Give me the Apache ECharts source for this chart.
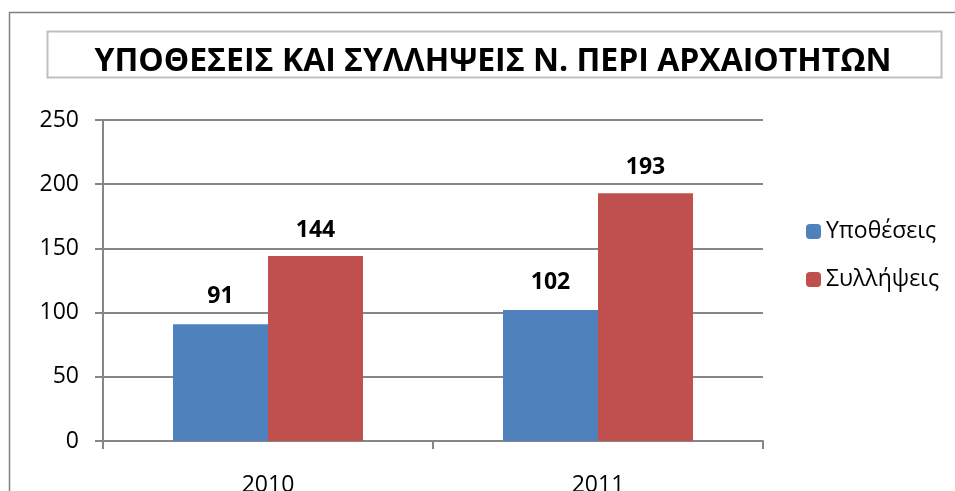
<!DOCTYPE html>
<html>
<head>
<meta charset="utf-8">
<script src="https://cdn.jsdelivr.net/npm/echarts@6/dist/echarts.min.js"></script>
<style>
  html, body { margin: 0; padding: 0; background: #fff; }
  #main { width: 955px; height: 491px; }
</style>
</head>
<body>
<div id="main"></div>
<script>
var years = ["2010", "2011"];
var cases = [91, 102];
var arrests = [144, 193];
var yTicks = [0, 50, 100, 150, 200, 250];

var font = "'Open Sans', 'Noto Sans', sans-serif";
var myChart = echarts.init(document.getElementById("main"));

var option = {
  animation: false,
  backgroundColor: "#fff",
  textStyle: { fontFamily: font },
  title: {
    text: "ΥΠΟΘΕΣΕΙΣ ΚΑΙ ΣΥΛΛΗΨΕΙΣ Ν. ΠΕΡΙ ΑΡΧΑΙΟΤΗΤΩΝ",
    left: 493,
    textAlign: "center",
    top: 46,
    padding: 0,
    textStyle: { fontFamily: font, fontSize: 32, fontWeight: "bold", color: "#000" }
  },
  graphic: [
    // outer chart border
    { type: "rect", shape: { x: 9.5, y: 12.5, width: 1000, height: 600 },
      style: { fill: "none", stroke: "#808080", lineWidth: 1.5 }, silent: true },
    // title box
    { type: "rect", shape: { x: 47.5, y: 31.5, width: 894, height: 46 },
      style: { fill: "none", stroke: "#bfbfbf", lineWidth: 2 }, silent: true, z: -1 }
  ],
  legend: {
    orient: "vertical",
    left: 806,
    top: 220,
    padding: 0,
    itemWidth: 15,
    itemHeight: 15,
    itemGap: 25,
    textStyle: { fontFamily: font, fontSize: 23, color: "#000" },
    data: ["Υποθέσεις", "Συλλήψεις"]
  },
  grid: { left: 103, top: 120, right: 192, bottom: 50, containLabel: false, outerBoundsMode: "none" },
  xAxis: {
    type: "category",
    data: years,
    axisLine: { lineStyle: { color: "#868686", width: 2 } },
    axisTick: { show: true, length: 8, lineStyle: { color: "#868686", width: 2 } },
    axisLabel: { margin: 33, fontSize: 23, color: "#000", fontFamily: font }
  },
  yAxis: {
    type: "value",
    min: yTicks[0],
    max: yTicks[yTicks.length - 1],
    interval: 50,
    axisLine: { show: true, lineStyle: { color: "#868686", width: 2 } },
    axisTick: { show: true, length: 8, lineStyle: { color: "#868686", width: 2 } },
    splitLine: { lineStyle: { color: "#868686", width: 2 } },
    axisLabel: { margin: 24, fontSize: 23, color: "#000", fontFamily: font }
  },
  series: [
    {
      name: "Υποθέσεις",
      type: "bar",
      data: cases,
      barWidth: 95,
      barGap: "0%",
      itemStyle: { color: "#4f81bd" },
      label: { show: true, position: "top", distance: 16, fontSize: 23, fontWeight: "bold", color: "#000", fontFamily: font }
    },
    {
      name: "Συλλήψεις",
      type: "bar",
      data: arrests,
      barWidth: 95,
      barGap: "0%",
      itemStyle: { color: "#c0504d" },
      label: { show: true, position: "top", distance: 14, fontSize: 23, fontWeight: "bold", color: "#000", fontFamily: font }
    }
  ]
};

myChart.setOption(option);
</script>
</body>
</html>
